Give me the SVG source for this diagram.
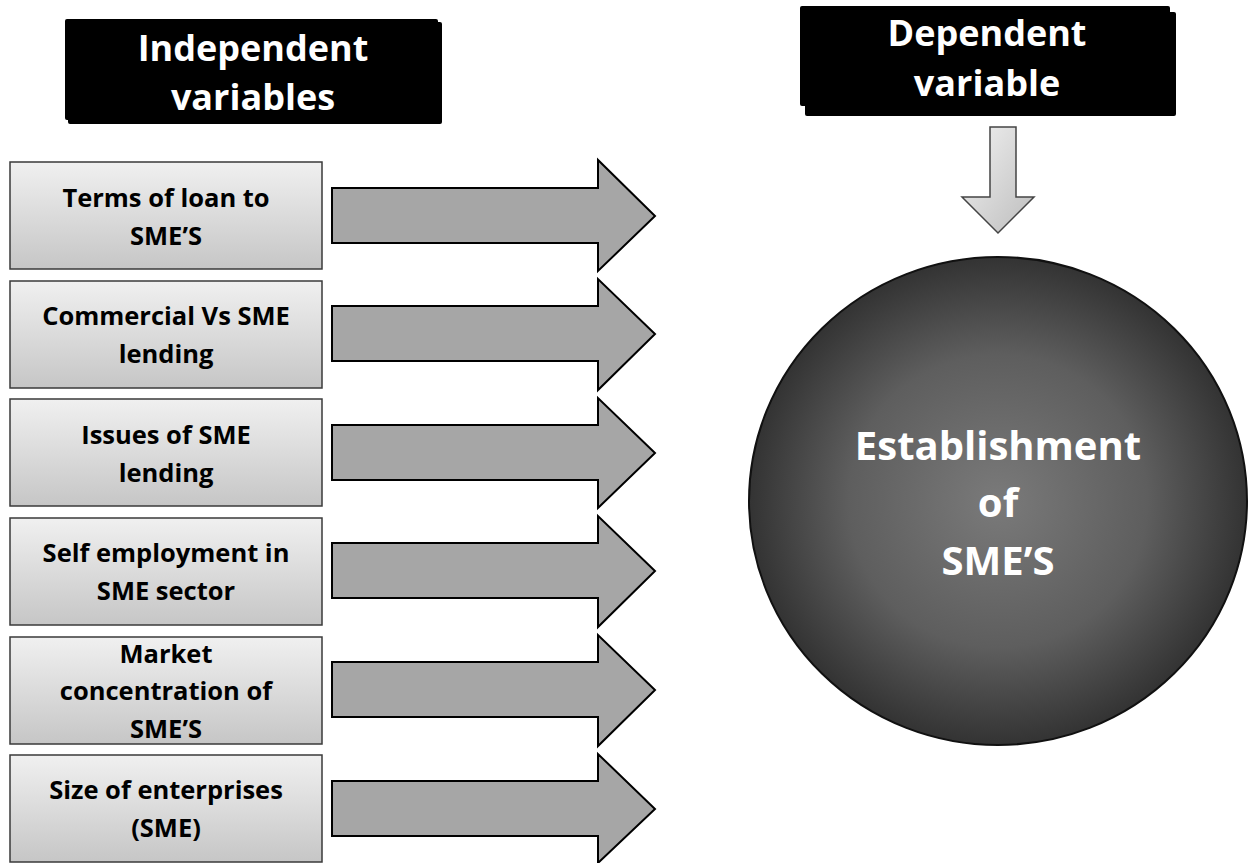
<svg xmlns="http://www.w3.org/2000/svg" width="1248" height="863" viewBox="0 0 1248 863">
<defs>
<linearGradient id="boxg" x1="0" y1="0" x2="0" y2="1">
<stop offset="0" stop-color="#f0f0f0"/>
<stop offset="1" stop-color="#c6c6c6"/>
</linearGradient>
<linearGradient id="downg" x1="0" y1="0" x2="1" y2="1">
<stop offset="0" stop-color="#f2f2f2"/>
<stop offset="1" stop-color="#bdbdbd"/>
</linearGradient>
<radialGradient id="circg" cx="0.5" cy="0.5" r="0.5">
<stop offset="0" stop-color="#7a7a7a"/>
<stop offset="0.6" stop-color="#5e5e5e"/>
<stop offset="1" stop-color="#333333"/>
</radialGradient>
</defs>
<style>
.hdr{fill:#000;}
.hdrt{font-family:"Open Sans",Lato,sans-serif;font-weight:bold;font-size:36px;fill:#fff;text-anchor:middle;}
.box{fill:url(#boxg);stroke:#3a3a3a;stroke-width:1.5;}
.boxt{font-family:"Open Sans",Lato,sans-serif;font-weight:bold;font-size:25.5px;fill:#000;text-anchor:middle;}
.arr{fill:#a6a6a6;stroke:#000;stroke-width:2;stroke-linejoin:miter;}
.circt{font-family:"Open Sans",Lato,sans-serif;font-weight:bold;font-size:40px;fill:#fff;text-anchor:middle;}
</style>
<rect width="1248" height="863" fill="#fff"/>

<g id="hdr-independent">
<rect class="hdr" x="68" y="22" width="374" height="102" rx="2"/>
<rect class="hdr" x="65" y="19" width="373" height="101" rx="2"/>
<text class="hdrt" x="253" y="61">Independent</text>
<text class="hdrt" x="253" y="110">variables</text>
</g>

<g id="hdr-dependent">
<rect class="hdr" x="805" y="12" width="371" height="104" rx="2"/>
<rect class="hdr" x="800" y="6" width="370" height="100" rx="2"/>
<text class="hdrt" x="987" y="46">Dependent</text>
<text class="hdrt" x="987" y="96">variable</text>
</g>

<g id="node1">
<rect class="box" x="10" y="162" width="312" height="107"/>
<text class="boxt" x="166" y="207">Terms of loan to</text>
<text class="boxt" x="166" y="245">SME’S</text>
</g>
<g id="node2">
<rect class="box" x="10" y="281" width="312" height="107"/>
<text class="boxt" x="166" y="325">Commercial Vs SME</text>
<text class="boxt" x="166" y="363">lending</text>
</g>
<g id="node3">
<rect class="box" x="10" y="399" width="312" height="107"/>
<text class="boxt" x="166" y="444">Issues of SME</text>
<text class="boxt" x="166" y="482">lending</text>
</g>
<g id="node4">
<rect class="box" x="10" y="518" width="312" height="107"/>
<text class="boxt" x="166" y="562">Self employment in</text>
<text class="boxt" x="166" y="600">SME sector</text>
</g>
<g id="node5">
<rect class="box" x="10" y="637" width="312" height="107"/>
<text class="boxt" x="166" y="663">Market</text>
<text class="boxt" x="166" y="700">concentration of</text>
<text class="boxt" x="166" y="738">SME’S</text>
</g>
<g id="node6">
<rect class="box" x="10" y="755" width="312" height="107"/>
<text class="boxt" x="166" y="799">Size of enterprises</text>
<text class="boxt" x="166" y="837">(SME)</text>
</g>

<g id="target">
<ellipse cx="998" cy="501" rx="249" ry="244" fill="url(#circg)" stroke="#111" stroke-width="2"/>
<text class="circt" x="998" y="460">Establishment</text>
<text class="circt" x="998" y="517">of</text>
<text class="circt" x="998" y="575">SME’S</text>
</g>

<g id="connectors">
<path class="arr" d="M332,188 H598 V160 L655,216 L598,271 V243 H332 Z"/>
<path class="arr" d="M332,306 H598 V279 L655,334 L598,390 V361 H332 Z"/>
<path class="arr" d="M332,425 H598 V398 L655,453 L598,508 V480 H332 Z"/>
<path class="arr" d="M332,543 H598 V516 L655,571 L598,627 V598 H332 Z"/>
<path class="arr" d="M332,662 H598 V635 L655,690 L598,746 V717 H332 Z"/>
<path class="arr" d="M332,781 H598 V754 L655,809 L598,863 V836 H332 Z"/>
<path d="M990,127 H1016 V197 H1034 L998,233 L962,197 H990 Z" fill="url(#downg)" stroke="#444" stroke-width="1.5"/>
</g>
</svg>
